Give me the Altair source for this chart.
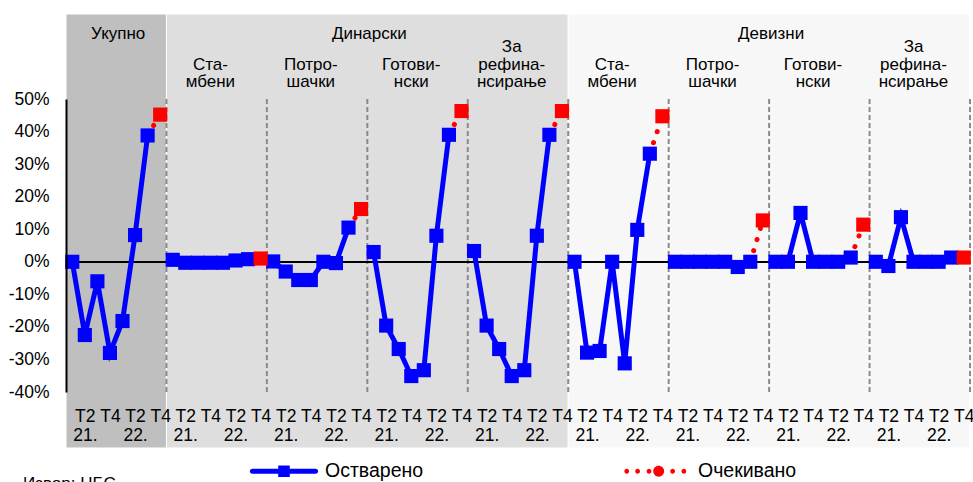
import json
import altair as alt
import pandas as pd

# ---------------- data ----------------
quarters = ["T1 21.", "T2 21.", "T3 21.", "T4 21.", "T1 22.", "T2 22.", "T3 22.", "T4 22."]
group_names = ["Укупно", "Дин. стамбени", "Дин. потрошачки", "Дин. готовински", "Дин. за рефинансирање",
               "Дев. стамбени", "Дев. потрошачки", "Дев. готовински", "Дев. за рефинансирање"]
group_labels = ["", "Ста-\nмбени", "Потро-\nшачки", "Готови-\nнски", "За\nрефина-\nнсирање",
                "Ста-\nмбени", "Потро-\nшачки", "Готови-\nнски", "За\nрефина-\nнсирање"]
section_names = ["Укупно", "Динарски", "Девизни"]
section_first_group = [0, 1, 5]
section_last_group = [0, 4, 8]

# realized (Остварено), T1 2021 .. T3 2022, in %
ukupno = [0.0, -22.5, -6.0, -28.0, -18.2, 8.2, 38.8]
din_stambeni = [0.6, -0.3, -0.3, -0.3, -0.3, 0.4, 0.8]
din_potrosacki = [0.1, -3.0, -5.6, -5.6, 0.0, -0.4, 10.5]
din_gotovinski = [3.0, -19.6, -26.8, -35.1, -33.3, 8.0, 39.0]
din_refinansiranje = [3.3, -19.6, -26.8, -35.1, -33.3, 8.0, 39.0]
dev_stambeni = [0.0, -27.9, -27.4, 0.0, -31.2, 9.8, 33.2]
dev_potrosacki = [0.0, 0.0, 0.0, 0.0, 0.0, -1.6, 0.0]
dev_gotovinski = [0.0, 0.0, 15.0, 0.0, 0.0, 0.0, 1.3]
dev_refinansiranje = [0.0, -1.3, 13.7, 0.0, 0.0, 0.0, 1.3]
# expected (Очекивано), T4 2022, in %
ocekivano = [45.2, 1.0, 16.2, 46.3, 46.3, 44.7, 12.7, 11.4, 1.3]

series_names = ["Остварено", "Очекивано"]
source_text = "Извор: НБС"
y_ticks = [-0.4, -0.3, -0.2, -0.1, 0.0, 0.1, 0.2, 0.3, 0.4, 0.5]
tick_quarters = ["T2", "T4", "T2", "T4"]
tick_years = ["21.", "", "22.", ""]

realized = [ukupno, din_stambeni, din_potrosacki, din_gotovinski, din_refinansiranje,
            dev_stambeni, dev_potrosacki, dev_gotovinski, dev_refinansiranje]

n_q = len(quarters)
n_g = len(group_names)
n_all = n_q * n_g

# ---------------- tables ----------------
real_rows, exp_line_rows, exp_pt_rows = [], [], []
for g, vals in enumerate(realized):
    for q, v in enumerate(vals):
        real_rows.append({"grp": group_names[g], "idx": g * n_q + q, "val": v / 100})
    last = len(vals) - 1
    exp_line_rows.append({"grp": group_names[g], "idx": g * n_q + last, "val": vals[last] / 100})
    exp_line_rows.append({"grp": group_names[g], "idx": g * n_q + n_q - 1, "val": ocekivano[g] / 100})
    exp_pt_rows.append({"grp": group_names[g], "idx": g * n_q + n_q - 1, "val": ocekivano[g] / 100})
real_df = pd.DataFrame(real_rows)
exp_line_df = pd.DataFrame(exp_line_rows)
exp_pt_df = pd.DataFrame(exp_pt_rows)

sep_df = pd.DataFrame({"idx": [g * n_q - 0.5 for g in range(1, n_g + 1)]})
sub_df = pd.DataFrame({"label": group_labels[1:],
                       "idx": [g * n_q + 3 for g in range(1, n_g)],
                       "nl": [lab.count("\n") + 1 for lab in group_labels[1:]]})
sec_df = pd.DataFrame({"label": section_names,
                       "idx": [(f * n_q + l * n_q + n_q - 1) / 2
                               for f, l in zip(section_first_group, section_last_group)]})
legend_df = pd.DataFrame({"series": series_names})
src_df = pd.DataFrame({"t": [source_text]})

# ---------------- styling ----------------
FONT = "Liberation Sans"
BLUE = "#0000ff"
RED = "#ff0000"
TOP_V = 0.761      # top of the shaded header band (data units)
BOT_V = -0.572     # bottom of the shaded band below tick labels
LINE_H = 17.5

tick_label_js = json.dumps([[q, y] if y else [q] for q, y in zip(tick_quarters, tick_years)])
x_axis = alt.Axis(values=list(range(1, n_all, 2)),
                  labelExpr=f"{tick_label_js}[floor((datum.value % {n_q}) / 2)]",
                  grid=False, ticks=False, tickSize=0, domain=False, title=None,
                  labelFontSize=17.5, labelFont=FONT, labelColor="black", labelPadding=15,
                  labelLineHeight=19, labelFlush=False, labelOverlap=False, zindex=1)
x_scale = alt.Scale(domain=[-0.5, n_all - 0.5], nice=False, zero=False)
y_axis = alt.Axis(values=y_ticks, labelExpr="round(datum.value * 100) + '%'",
                  grid=False, ticks=False, tickSize=0, domain=True, domainColor="black",
                  domainWidth=2, title=None, labelFontSize=17.5, labelFont=FONT,
                  labelColor="black", labelPadding=17, labelOverlap=False, zindex=1)
y_scale = alt.Scale(domain=[-0.4, 0.5], nice=False, zero=False)


def X(field):
    return alt.X(field, scale=x_scale, axis=x_axis)


def Y(field):
    return alt.Y(field, scale=y_scale, axis=y_axis)


def XD(v):
    return alt.XDatum(v, scale=x_scale, axis=x_axis)


def YD(v):
    return alt.YDatum(v, scale=y_scale, axis=y_axis)


# ---------------- layers ----------------
layers = []
sec_colors = ["#bfbfbf", "#dedede", "#f7f7f7"]
for s in range(len(section_names)):
    rdf = pd.DataFrame({"x0": [section_first_group[s] * n_q - 0.5],
                        "x1": [section_last_group[s] * n_q + n_q - 0.5]})
    layers.append(alt.Chart(rdf).mark_rect(color=sec_colors[s], stroke="white", strokeWidth=1).encode(
        x=X("x0:Q"), x2="x1:Q", y=YD(TOP_V), y2=alt.datum(BOT_V)))

layers.append(alt.Chart(sep_df).mark_rule(color="#8a8a8a", strokeWidth=2, strokeDash=[5, 3]).encode(
    x=X("idx:Q"), y=YD(-0.4), y2=alt.datum(0.5)))

layers.append(alt.Chart(sep_df).mark_rule(color="black", strokeWidth=1.8).encode(
    x=XD(-0.5), x2=alt.datum(n_all - 0.5), y=YD(0.0)))

layers.append(alt.Chart(real_df).mark_line(color=BLUE, strokeWidth=5).encode(
    x=X("idx:Q"), y=Y("val:Q"), detail="grp:N"))

layers.append(alt.Chart(exp_line_df).mark_line(color=RED, strokeWidth=5, strokeDash=[0.1, 11.5],
                                               strokeCap="round").encode(
    x=X("idx:Q"), y=Y("val:Q"), detail="grp:N"))

layers.append(alt.Chart(real_df).mark_square(color=BLUE, size=200, opacity=1).encode(
    x=X("idx:Q"), y=Y("val:Q")))

layers.append(alt.Chart(exp_pt_df).mark_square(color=RED, size=200, opacity=1).encode(
    x=X("idx:Q"), y=Y("val:Q")))

layers.append(alt.Chart(sec_df).mark_text(font=FONT, fontSize=17, color="black", align="center",
                                          baseline="middle", dx=2).encode(
    x=X("idx:Q"), y=YD(0.699), text="label:N"))

# multi-line group labels: last line sits on a common baseline
for nl in sorted(set(sub_df["nl"])):
    layers.append(alt.Chart(sub_df).transform_filter(f"datum.nl == {nl}").mark_text(
        font=FONT, fontSize=17, color="black", align="center", baseline="bottom",
        lineBreak="\n", lineHeight=LINE_H, dy=-(nl - 1) * LINE_H).encode(
        x=X("idx:Q"), y=YD(0.524), text="label:N"))

layers.append(alt.Chart(src_df).mark_text(font=FONT, fontSize=17, color="black", align="left",
                                          baseline="alphabetic").encode(
    x=alt.value(-43), y=alt.value(390), text="t:N"))


# legend symbols (custom paths, unit box [-1, 1], symbol width 68 px)
def circ(cx, r):
    return (f"M{cx - r:.3f},0A{r:.3f},{r:.3f} 0 1,0 {cx + r:.3f},0"
            f"A{r:.3f},{r:.3f} 0 1,0 {cx - r:.3f},0Z")


h = 0.074
path_real = (f"M-0.93,{-h}H0.93A{h},{h} 0 0,1 0.93,{h}H-0.93A{h},{h} 0 0,1 -0.93,{-h}Z"
             "M-0.17,-0.17H0.17V0.17H-0.17Z")
path_exp = "".join(circ(c, 0.07) for c in [-0.89, -0.57, -0.235, 0.46, 0.79]) + circ(0.05, 0.16)

leg = alt.Legend(title=None, orient="none", legendX=184, legendY=338, direction="horizontal",
                 symbolSize=4624, symbolStrokeWidth=0, symbolOpacity=1,
                 labelFontSize=19.5, labelFont=FONT, labelColor="black", labelOffset=7,
                 columnPadding=199, padding=0, labelLimit=400)
layers.append(alt.Chart(legend_df).mark_point(filled=True, opacity=1).encode(
    color=alt.Color("series:N", scale=alt.Scale(domain=series_names, range=[BLUE, RED]), legend=leg),
    shape=alt.Shape("series:N", scale=alt.Scale(domain=series_names, range=[path_real, path_exp]),
                    legend=leg),
).transform_filter("false"))

chart = alt.layer(*layers).properties(
    width=904, height=293,
    autosize=alt.AutoSizeParams(type="none"),
    padding={"left": 66, "top": 99, "right": 3, "bottom": 90},
    background="white",
).configure_view(strokeWidth=0).configure(font=FONT).configure_axis(labelOverlap=False)

chart.save("out.html", embed_options={"renderer": "svg", "actions": False})
